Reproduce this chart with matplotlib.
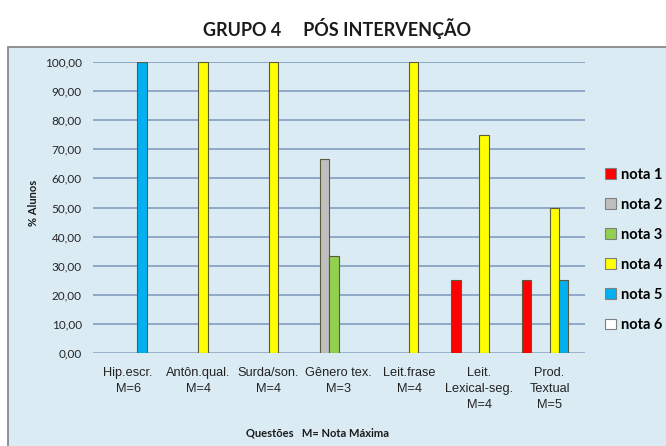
import numpy as np
import matplotlib
matplotlib.use("Agg")
import matplotlib.pyplot as plt
from matplotlib.patches import Rectangle, Patch

# data
questoes = ["Hip.escr.\nM=6", "Antôn.qual.\nM=4", "Surda/son.\nM=4", "Gênero tex.\nM=3",
            "Leit.frase\nM=4", "Leit.\nLexical-seg.\nM=4", "Prod.\nTextual\nM=5"]
nota1 = [0, 0, 0, 0, 0, 25, 25]
nota2 = [0, 0, 0, 66.67, 0, 0, 0]
nota3 = [0, 0, 0, 33.33, 0, 0, 0]
nota4 = [0, 100, 100, 0, 100, 75, 50]
nota5 = [100, 0, 0, 0, 0, 0, 25]
nota6 = [0, 0, 0, 0, 0, 0, 0]
series = [nota1, nota2, nota3, nota4, nota5, nota6]
labels = ["nota 1", "nota 2", "nota 3", "nota 4", "nota 5", "nota 6"]
colors = ["#FF0000", "#BFBFBF", "#92D050", "#FFFF00", "#00B0F0", "#FFFFFF"]
yticks = np.arange(0, 101, 10)

bg = "#DAEBF4"
fig = plt.figure(figsize=(6.66, 4.46), dpi=100)
fig.patch.set_facecolor("white")

# chart area box, kept behind the axes
fig.patches.append(Rectangle((0.012, -0.01), 1.0, 0.905, transform=fig.transFigure,
                             facecolor=bg, edgecolor="#808080", linewidth=1.2, zorder=-5))

ax = fig.add_axes([0.1396, 0.2085, 0.7384, 0.6525])
ax.set_facecolor(bg)

x = np.arange(len(questoes))
w = 0.8 / 6
for i, (vals, c, lab) in enumerate(zip(series, colors, labels)):
    edges = ["#5A5A3C" if v > 0 else (0, 0, 0, 0) for v in vals]
    ax.bar(x + (i - 2.5) * w, vals, width=w, color=c, edgecolor=edges, linewidth=0.8,
           zorder=3)

ax.set_xlim(-0.5, len(questoes) - 0.5)
ax.set_ylim(0, 100)
ax.set_yticks(yticks)
ax.set_yticklabels([f"{v:.2f}".replace(".", ",") for v in yticks],
                   fontfamily="Lato", fontsize=8.5, color="#262626")
ax.set_xticks(x)
ax.set_xticklabels(questoes, fontfamily="Liberation Sans", fontsize=9.2,
                   color="#222222", linespacing=1.45)
ax.tick_params(axis="y", length=0, pad=8)
ax.tick_params(axis="x", length=0, pad=10)
ax.grid(axis="y", color="#8AA3C4", linewidth=1.3, zorder=1)
for s in ax.spines.values():
    s.set_visible(False)
ax.axhline(0, color="#C8D6E0", linewidth=1.0, zorder=2)

fig.text(0.506, 0.935, "GRUPO 4     PÓS INTERVENÇÃO", ha="center", va="center",
         fontfamily="Lato", fontweight="bold", fontsize=13, color="#1A1A1A")
fig.text(0.05, 0.545, "% Alunos", rotation=90, ha="center", va="center",
         fontfamily="Lato", fontweight="bold", fontsize=8, color="#1A1A1A")
fig.text(0.476, 0.03, "Questões   M= Nota Máxima", ha="center", va="center",
         fontfamily="Lato", fontweight="bold", fontsize=8, color="#1A1A1A")

handles = [Patch(facecolor=c, edgecolor="#7F7F7F", linewidth=0.8) for c in colors]
leg = fig.legend(handles, labels, loc="upper left", bbox_to_anchor=(0.9, 0.637),
                 frameon=False, prop={"family": "Lato", "weight": "bold", "size": 10.5},
                 handlelength=0.75, handleheight=0.75, handletextpad=0.3,
                 labelspacing=1.1, borderaxespad=0)

fig.savefig("out.png", dpi=100, facecolor=fig.get_facecolor())
